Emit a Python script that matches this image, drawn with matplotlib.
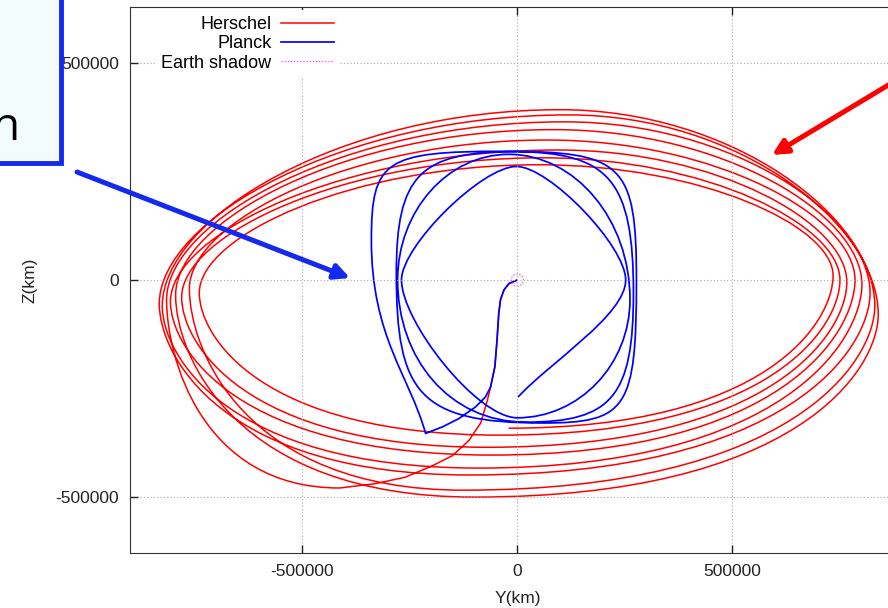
import matplotlib
matplotlib.use("Agg")
import matplotlib.pyplot as plt
from matplotlib.path import Path
from matplotlib.patches import PathPatch, Circle, Rectangle, FancyArrowPatch
from matplotlib.lines import Line2D

plt.rcParams['font.family'] = ['Liberation Sans', 'DejaVu Sans']
plt.rcParams['axes.unicode_minus'] = False

# --- dados (em milhares de km) ---
# Herschel: trecho de transferencia + extremos de cada volta (esq, topo, dir, baixo)
h_tr_y = [0, -19, -31, -39, -43, -47, -52, -62, -70, -85, -112, -150, -200, -260, -330, -413]
h_tr_z = [0, -8, -23, -46, -77, -139, -200, -247, -280, -330, -370, -405, -430, -455, -470, -480]
h_left_y = [-815, -832, -794, -825, -762, -806, -780, -739]
h_left_z = [-46, -55, -35, -60, -20, -50, -40, -30]
h_top_y = [110, 120, 85, 99, 70, 95, 60, 50]
h_top_z = [365, 381, 347, 393, 323, 300, 282, 266]
h_right_y = [820, 839, 801, 831, 785, 766, 750, 734]
h_right_z = [-30, -80, -10, -60, 0, -5, 0, 10]
h_bottom_y = [-110, -100, -90, -125, -60, -70, -40, -20]
h_bottom_z = [-450, -501, -434, -485, -404, -386, -358, -342]

# Planck: transferencia + 4 voltas (de quadrada para losango)
p_tr_y = [0, -19, -31, -39, -43, -47, -52, -62, -74, -97, -136, -174, -213]
p_tr_z = [0, -8, -23, -46, -77, -139, -200, -247, -270, -293, -320, -339, -354]
p_left_y = [-339, -281, -278, -269]
p_left_z = [92, 16, 0, 0]
p_top_y = [-30, -10, -20, -2]
p_top_z = [297, 296, 290, 262]
p_right_y = [277, 270, 262, 252]
p_right_z = [0, -30, -45, 0]
p_bottom_y = [60, 20, 0]
p_bottom_z = [-330, -328, -318]
p_square = [0.9, 0.8, 0.55, 0.3]
p_end = (2, -270)

shadow_radius = 14000  # km

ticks = [-500000, 0, 500000]
tick_labels = ['-500000', '0', '500000']


def seg(p0, p3, k0, k3, t0, t3):
    # um trecho bezier entre dois pontos extremos (tangente h/v/livre)
    dx = p3[0] - p0[0]
    dz = p3[1] - p0[1]
    if t0 == 'h':
        c1 = (p0[0] + k0 * dx, p0[1])
    elif t0 == 'v':
        c1 = (p0[0], p0[1] + k0 * dz)
    else:
        c1 = (p0[0] + k0 * dx, p0[1] + k0 * dz)
    if t3 == 'h':
        c2 = (p3[0] - k3 * dx, p3[1])
    elif t3 == 'v':
        c2 = (p3[0], p3[1] - k3 * dz)
    else:
        c2 = (p3[0] - k3 * dx, p3[1] - k3 * dz)
    return [c1, c2, p3]


def km(pts):
    return [(a * 1000, b * 1000) for a, b in pts]


# --- caminho Herschel ---
h_verts = list(zip(h_tr_y, h_tr_z))
h_codes = [Path.MOVETO] + [Path.LINETO] * (len(h_verts) - 1)
prev = h_verts[-1]
for i in range(len(h_left_y)):
    L = (h_left_y[i], h_left_z[i])
    T = (h_top_y[i], h_top_z[i])
    R = (h_right_y[i], h_right_z[i])
    B = (h_bottom_y[i], h_bottom_z[i])
    h_verts += seg(prev, L, 0.8, 0.3, 'h', 'v')
    h_verts += seg(L, T, 0.45, 0.55, 'v', 'h')
    h_verts += seg(T, R, 0.55, 0.45, 'h', 'v')
    h_verts += seg(R, B, 0.3, 0.8, 'v', 'h')
    h_codes += [Path.CURVE4] * 12
    prev = B

# --- caminho Planck ---
p_verts = list(zip(p_tr_y, p_tr_z))
p_codes = [Path.MOVETO] + [Path.LINETO] * (len(p_verts) - 1)
prev = p_verts[-1]
for i in range(len(p_left_y)):
    s = p_square[i]
    L = (p_left_y[i], p_left_z[i])
    T = (p_top_y[i], p_top_z[i])
    R = (p_right_y[i], p_right_z[i])
    if i == 0:
        p_verts += seg(prev, L, 0.3, 0.5, 'f', 'v')
    else:
        p_verts += seg(prev, L, s + 0.05, s, 'h', 'v')
    p_verts += seg(L, T, s, s, 'v', 'h')
    p_verts += seg(T, R, s, s, 'h', 'v')
    if i < len(p_bottom_y):
        B = (p_bottom_y[i], p_bottom_z[i])
        p_verts += seg(R, B, s, s, 'v', 'h')
        prev = B
    else:
        p_verts += seg(R, p_end, 0.3, 0.3, 'v', 'f')
    p_codes += [Path.CURVE4] * 12

# --- figura ---
fig = plt.figure(figsize=(8.88, 6.08), dpi=100)
ax = fig.add_axes([130 / 888, 55 / 608, 774.5 / 888, 546 / 608])

ax.add_patch(PathPatch(Path(km(h_verts), h_codes), fill=False, ec='#ff0000', lw=1.1))
ax.add_patch(PathPatch(Path(km(p_verts), p_codes), fill=False, ec='#0000ff', lw=1.25))
ax.add_patch(Circle((0, 0), shadow_radius, fill=False, ec='#ff44ff', lw=0.9, ls=(0, (1, 1.5))))

ax.set_xlim(-900000, 900000)
ax.set_ylim(-630000, 630000)
ax.set_xticks(ticks)
ax.set_xticklabels(tick_labels)
ax.set_yticks(ticks)
ax.set_yticklabels(tick_labels)
ax.tick_params(direction='in', length=6, width=1, top=True, right=True,
               labelsize=12.5, pad=8, colors='#222222')
ax.grid(True, color='#a8a8a8', lw=0.8, ls=(0, (1, 2)))
for sp in ax.spines.values():
    sp.set_color('#333333')

handles = [Line2D([], [], color='#ff0000', lw=1.1),
           Line2D([], [], color='#0000ff', lw=1.25),
           Line2D([], [], color='#ff44ff', lw=0.9, ls=(0, (1, 1.5)))]
leg = ax.legend(handles, ['Herschel', 'Planck', 'Earth shadow'], loc='upper right',
                bbox_to_anchor=(340 / 888, 1 - 10 / 608), bbox_transform=fig.transFigure,
                markerfirst=False, fontsize=13, handlelength=2.9, handletextpad=0.55,
                labelspacing=0.12, borderpad=0.35, borderaxespad=0, fancybox=False,
                framealpha=1, facecolor='white', edgecolor='none')

fig.text(517.5 / 888, 1 - 598 / 608, 'Y(km)', ha='center', va='center', fontsize=12.5, color='#222222')
fig.text(30 / 888, 1 - 280 / 608, 'Z(km)', ha='center', va='center', rotation=90, fontsize=12.5, color='#222222')

# --- anotacoes sobrepostas ---
fig.add_artist(Rectangle((-30 / 888, 1 - 162.5 / 608), 91 / 888, 200 / 608, transform=fig.transFigure,
                         fc='#f2fcfd', ec='#1428f0', lw=3.5))
fig.text(19 / 888, 1 - 128 / 608, 'n', ha='right', va='center', fontsize=33, family='Open Sans')

fig.add_artist(FancyArrowPatch((77 / 888, 1 - 172 / 608), (350 / 888, 1 - 278 / 608),
                               transform=fig.transFigure, arrowstyle='-|>,head_length=0.9,head_width=0.45',
                               mutation_scale=10, lw=3.6, color='#1428f0', shrinkA=0, shrinkB=0))
fig.add_artist(FancyArrowPatch((900 / 888, 1 - 78 / 608), (772 / 888, 1 - 155 / 608),
                               transform=fig.transFigure, arrowstyle='-|>,head_length=0.9,head_width=0.45',
                               mutation_scale=10, lw=3.6, color='#ff0000', shrinkA=0, shrinkB=0))

fig.savefig('out.png', dpi=100)
